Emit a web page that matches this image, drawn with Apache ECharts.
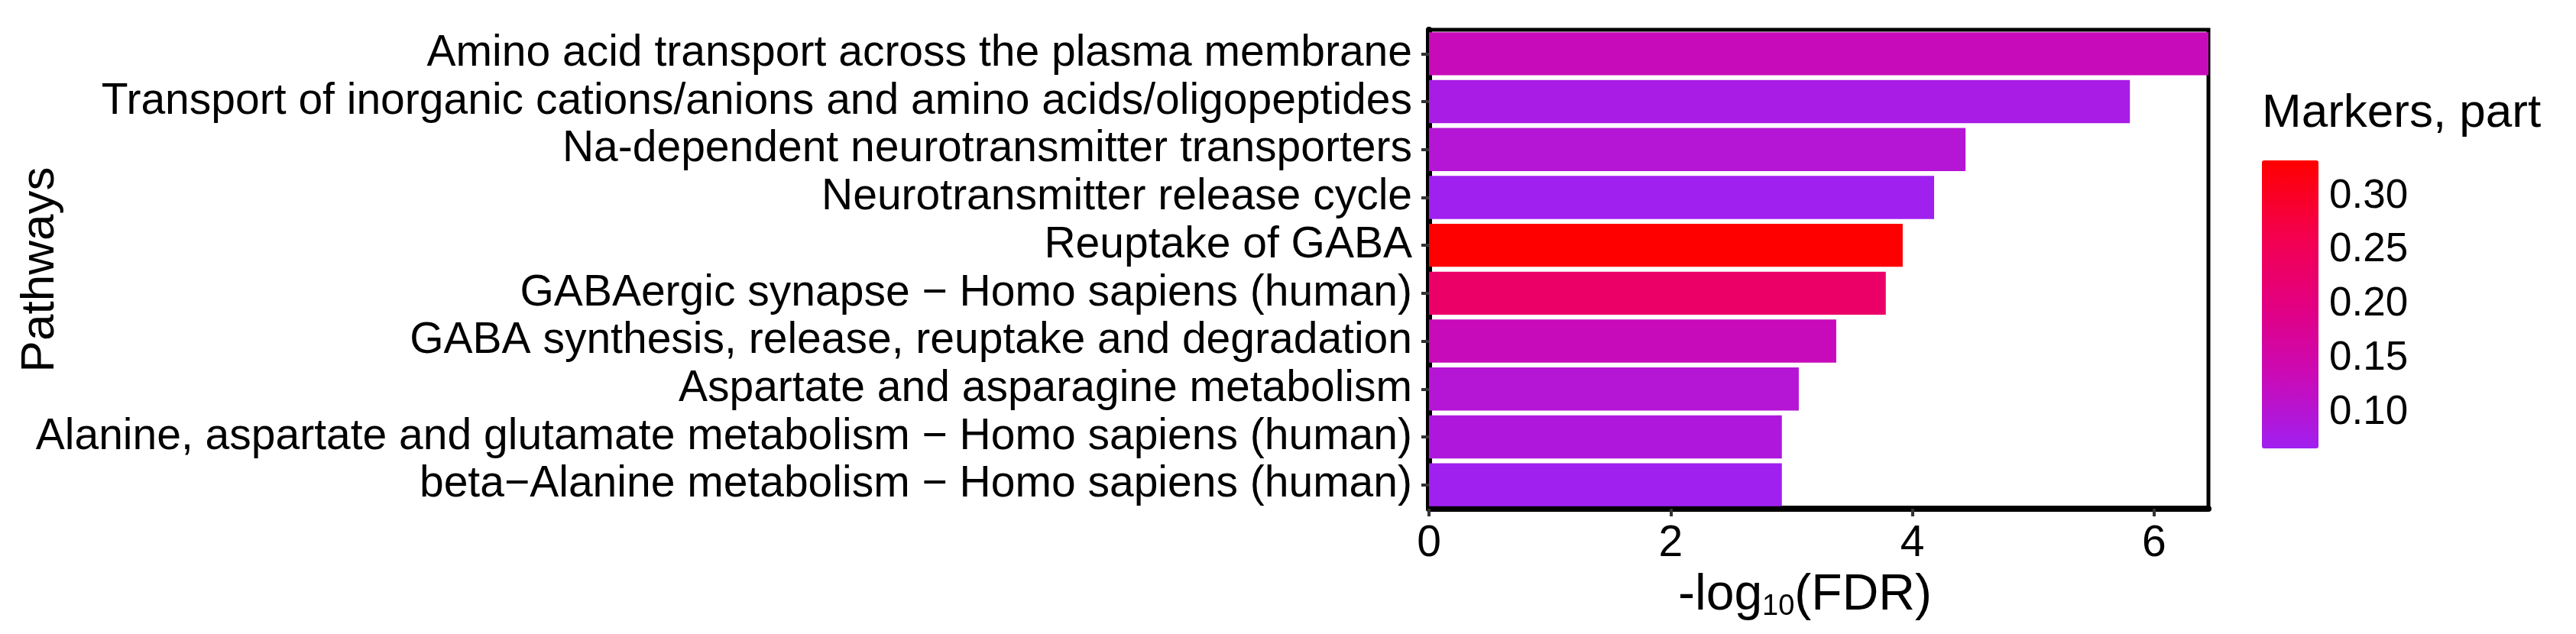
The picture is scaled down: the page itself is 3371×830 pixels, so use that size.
<!DOCTYPE html>
<html>
<head>
<meta charset="utf-8">
<script src="https://cdn.jsdelivr.net/npm/echarts@6/dist/echarts.min.js"></script>
<style>
html,body{margin:0;padding:0;background:#fff;}
#chart{width:3371px;height:830px;}
</style>
</head>
<body>
<div id="chart"></div>
<script>
// ---- data ----
const categories = [
  "Amino acid transport across the plasma membrane",
  "Transport of inorganic cations/anions and amino acids/oligopeptides",
  "Na-dependent neurotransmitter transporters",
  "Neurotransmitter release cycle",
  "Reuptake of GABA",
  "GABAergic synapse \u2212 Homo sapiens (human)",
  "GABA synthesis, release, reuptake and degradation",
  "Aspartate and asparagine metabolism",
  "Alanine, aspartate and glutamate metabolism \u2212 Homo sapiens (human)",
  "beta\u2212Alanine metabolism \u2212 Homo sapiens (human)"
];
const fdrValues = [6.45, 5.80, 4.44, 4.18, 3.92, 3.78, 3.37, 3.06, 2.92, 2.92];
const markerPart = [0.13, 0.08, 0.10, 0.0667, 0.3333, 0.23, 0.13, 0.10, 0.09, 0.0667];
const xTicks = [0, 2, 4, 6];
const legendTicks = [0.10, 0.15, 0.20, 0.25, 0.30];
const partMin = 0.0667, partMax = 0.3333;
const fdrMax = 6.45;

const FONT = "'Liberation Sans', Arial, sans-serif";
const chart = echarts.init(document.getElementById('chart'), null, {renderer: 'canvas'});

const barData = categories.map((c, i) => [fdrValues[i], c, markerPart[i]]);

const option = {
  backgroundColor: '#ffffff',
  animation: false,
  textStyle: {fontFamily: FONT},
  grid: [
    {left: 1870, right: 481, top: 39, bottom: 164, show: true, borderColor: '#000', borderWidth: 5, backgroundColor: '#fff'},
    {left: 2960, top: 210, width: 74, height: 377, show: false}
  ],
  xAxis: [
    {
      type: 'value', gridIndex: 0, min: 0, max: fdrMax, interval: 2,
      axisLine: {show: true, lineStyle: {color: '#000', width: 8}},
      axisTick: {show: true, length: 10, lineStyle: {color: '#333', width: 4}, customValues: xTicks},
      axisLabel: {color: '#000', fontSize: 57, fontFamily: FONT, margin: 18, customValues: xTicks},
      splitLine: {show: false},
      name: '-log{s|10}(FDR)', nameLocation: 'middle', nameGap: 80,
      nameTextStyle: {color: '#000', fontSize: 66, fontFamily: FONT, padding: [0, 36, 0, 0],
        rich: {s: {fontSize: 38, fontFamily: FONT, color: '#000', verticalAlign: 'bottom', padding: [30, 0, 0, 0]}}}
    },
    {type: 'value', gridIndex: 1, min: 0, max: 1, show: false}
  ],
  yAxis: [
    {
      type: 'category', gridIndex: 0, data: categories, inverse: true,
      axisLine: {show: true, lineStyle: {color: '#000', width: 8}},
      axisTick: {show: true, length: 10, alignWithLabel: true, interval: 0, lineStyle: {color: '#333', width: 4}},
      axisLabel: {color: '#000', fontSize: 57, fontFamily: FONT, margin: 22, interval: 0},
      splitLine: {show: false}
    },
    {
      type: 'value', gridIndex: 1, position: 'left', min: partMin, max: partMax,
      axisLine: {show: false},
      axisTick: {show: true, inside: true, length: 14, lineStyle: {color: '#fff', width: 2}, customValues: legendTicks},
      axisLabel: {show: false},
      splitLine: {show: false}
    },
    {
      type: 'value', gridIndex: 1, position: 'right', min: partMin, max: partMax,
      axisLine: {show: false},
      axisTick: {show: true, inside: true, length: 14, lineStyle: {color: '#fff', width: 2}, customValues: legendTicks},
      axisLabel: {show: true, color: '#000', fontSize: 53, fontFamily: FONT, margin: 14,
        customValues: legendTicks, formatter: v => v.toFixed(2)},
      splitLine: {show: false}
    }
  ],
  visualMap: {
    type: 'continuous', seriesIndex: 0, dimension: 2,
    min: partMin, max: partMax, calculable: false, hoverLink: false,
    left: 2960, top: 210, itemWidth: 74, itemHeight: 377, padding: 0,
    inRange: {color: ['#A020F0', '#CA0AB7', '#E30080', '#F4004B', '#FF0000']},
    z: 1
  },
  graphic: [
    {type: 'text', left: 2960, top: 118, z: 10,
      style: {text: 'Markers, part', fill: '#000', font: "62px " + FONT}},
    {type: 'text', x: 53, y: 353, rotation: Math.PI / 2, z: 10,
      style: {text: 'Pathways', fill: '#000', font: "62px " + FONT, align: 'center', verticalAlign: 'middle'}}
  ],
  series: [
    {
      type: 'bar', xAxisIndex: 0, yAxisIndex: 0,
      encode: {x: 0, y: 1},
      data: barData,
      barCategoryGap: '10%',
      z: 2
    }
  ]
};
chart.setOption(option);
</script>
</body>
</html>
